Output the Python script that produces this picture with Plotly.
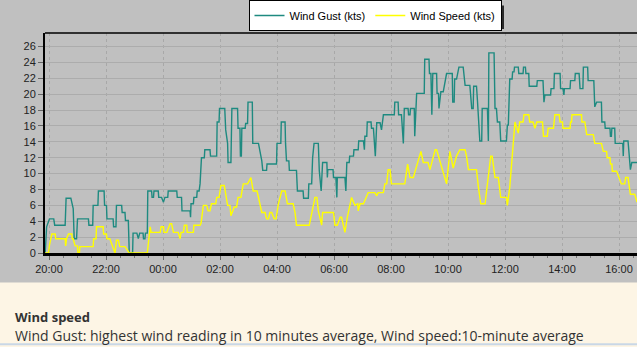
import plotly.graph_objects as go
from datetime import datetime, timedelta

# ---------------- data ----------------
gust_times = ["19:52","19:55","20:01","20:10","20:12","20:34","20:36","20:46","20:51","20:53","20:58","21:00",
"21:23","21:24","21:32","21:33","21:43","21:44","21:56","21:57","22:01","22:02","22:15","22:16","22:21","22:22",
"22:33","22:34","22:40","22:41","22:47","22:49","22:56","22:57","23:05","23:08","23:11","23:18","23:19","23:22",
"23:23","23:27","23:28","23:36","23:37","23:40","23:41","23:50","23:51","23:57","00:01","00:04","00:10","00:11",
"00:29","00:30","00:39","00:40","00:57","00:58","00:59","01:04","01:05","01:11","01:12","01:16","01:18","01:21",
"01:27","01:28","01:39","01:40","01:53","01:54","01:58","01:59","02:10","02:12","02:16","02:17","02:23","02:25",
"02:37","02:38","02:42","02:43","02:45","02:46","02:53","02:54","02:58","02:59","03:08","03:09","03:21","03:28",
"03:30","03:38","03:39","03:59","04:00","04:08","04:09","04:17","04:18","04:20","04:25","04:26","04:41","04:43",
"04:55","04:56","05:06","05:07","05:13","05:15","05:18","05:27","05:29","05:33","05:36","05:45","05:46","05:47",
"05:58","05:59","06:04","06:06","06:07","06:23","06:25","06:27","06:32","06:33","06:41","06:42","06:51","06:52",
"07:02","07:04","07:05","07:09","07:10","07:18","07:19","07:23","07:27","07:30","07:37","07:40","07:44","08:07",
"08:08","08:15","08:16","08:22","08:26","08:28","08:36","08:37","08:40","08:41","08:49","08:50","08:54","09:10",
"09:11","09:20","09:21","09:24","09:26","09:28","09:36","09:37","09:40","09:41","09:45","09:50","09:57","10:09",
"10:10","10:13","10:14","10:18","10:23","10:32","10:36","10:46","10:50","10:53","10:54","11:00","11:02","11:07",
"11:11","11:12","11:23","11:24","11:25","11:26","11:37","11:39","11:42","11:44","11:49","11:51","12:03","12:05",
"12:07","12:10","12:15","12:16","12:19","12:20","12:28","12:29","12:38","12:39","12:43","12:44","12:50","12:51",
"13:07","13:08","13:20","13:22","13:24","13:36","13:37","13:43","13:44","13:56","13:57","14:02","14:04","14:05",
"14:17","14:18","14:27","14:28","14:36","14:38","14:44","14:45","14:54","14:55","15:07","15:09","15:13","15:23",
"15:24","15:30","15:31","15:41","15:42","15:44","15:45","15:51","15:52","16:08","16:09","16:10","16:19","16:24",
"16:27","16:38"]
gust_values = [0,3.3,4.3,4.3,3.5,3.5,6.9,6.9,5.6,1.8,1.8,4.3,
4.3,3.5,3.5,6.0,6.0,7.8,7.8,6.0,6.0,4.3,4.3,3.3,3.3,6.0,
6.0,5.1,5.1,4.1,4.1,0,0,2.5,2.5,1.8,2.5,2.5,1.8,1.8,
2.5,2.5,7.8,7.8,7.0,7.0,7.8,7.8,7.0,7.0,6.4,7.0,7.0,7.8,
7.8,7.0,7.0,5.3,5.3,4.5,6.2,6.2,7.0,7.0,7.8,7.8,8.7,12.0,
12.0,13.0,13.0,12.2,12.2,16.5,16.5,18.2,18.2,15.5,13.8,11.4,11.4,18.2,
18.2,15.7,15.7,12.2,12.2,15.7,15.7,16.3,16.3,19.0,19.0,13.8,13.8,11.6,
10.4,10.4,11.2,11.2,13.8,13.8,16.5,16.5,13.8,11.6,11.6,10.4,10.4,7.8,
7.8,6.9,6.9,8.7,8.7,12.0,13.8,13.8,10.4,7.8,11.4,11.4,9.5,10.5,
10.5,9.5,9.5,7.0,9.5,9.5,7.8,11.4,11.4,12.2,12.2,13.0,13.0,14.1,
14.1,13.0,14.7,14.7,16.5,16.5,15.7,15.7,12.2,16.4,16.4,15.5,17.4,17.4,
19.0,19.0,17.4,17.4,13.8,18.2,18.2,17.4,17.4,18.2,18.2,14.7,20.1,20.1,
24.4,24.4,22.6,22.6,17.4,22.6,22.6,20.1,20.1,18.2,20.3,20.3,22.6,22.6,
19.0,19.0,21.9,21.9,23.4,23.4,21.1,21.1,18.2,18.2,21.0,21.0,19.2,14.1,
14.1,18.2,18.2,14.1,14.1,25.2,25.2,18.2,18.2,16.5,16.5,14.1,14.1,16.1,
16.1,21.9,21.9,22.8,22.8,23.4,23.4,22.6,22.6,23.4,23.4,22.6,22.6,21.0,
21.0,21.7,21.7,19.0,19.9,19.9,20.7,20.7,22.6,22.6,20.7,20.7,19.9,20.7,
20.7,21.7,21.7,22.6,22.6,20.7,20.7,23.4,23.4,21.7,21.7,18.4,19.0,19.0,
16.5,16.5,15.7,15.7,14.7,14.7,15.7,15.7,13.8,13.8,12.2,14.1,14.1,10.5,
11.4,11.4]

speed_times = ["19:52","19:59","20:01","20:06","20:13","20:14","20:34","20:35","20:37","20:41","20:48","20:49",
"20:51","20:55","21:00","21:01","21:04","21:05","21:33","21:34","21:39","21:40","21:54","21:55","22:01","22:02",
"22:08","22:19","22:22","22:26","22:29","22:40","22:49","23:27","23:33","23:35","23:54","23:56","00:01","00:02",
"00:08","00:15","00:18","00:22","00:32","00:36","00:38","00:43","00:45","00:50","00:51","01:04","01:05","01:18",
"01:20","01:25","01:32","01:35","01:39","01:42","01:51","01:53","01:58","02:02","02:09","02:12","02:16","02:21",
"02:23","02:30","02:35","02:38","02:44","02:49","02:58","03:05","03:10","03:18","03:28","03:35","03:38","03:42",
"03:45","03:49","03:54","03:58","04:03","04:10","04:17","04:22","04:34","04:38","04:41","05:08","05:13","05:20",
"05:24","05:27","05:34","05:36","05:59","06:02","06:07","06:13","06:16","06:23","06:28","06:37","06:44","06:50",
"06:51","06:55","07:02","07:12","07:26","07:30","07:33","07:44","07:47","07:51","07:54","07:58","08:01","08:29",
"08:35","08:40","08:47","09:03","09:08","09:18","09:22","09:33","09:36","09:57","10:04","10:11","10:18","10:25",
"10:36","10:39","10:43","11:00","11:04","11:09","11:18","11:25","11:30","11:33","11:39","11:46","11:51","12:03",
"12:05","12:10","12:15","12:21","12:28","12:31","12:38","12:40","12:50","12:52","12:59","13:03","13:07","13:19",
"13:21","13:29","13:31","13:42","13:45","13:54","13:56","14:01","14:02","14:17","14:18","14:20","14:21","14:41",
"14:42","14:48","14:52","15:06","15:09","15:23","15:27","15:34","15:35","15:41","15:42","15:45","15:46","15:55",
"16:00","16:05","16:12","16:14","16:19","16:24","16:33","16:38"]
speed_values = [0,0,1.0,2.4,2.4,1.8,1.8,0.9,1.8,2.4,2.4,1.8,
1.8,0.9,0.9,0,0,0.8,0.8,1.8,1.8,3.3,3.3,2.4,2.4,1.8,
1.8,0,1.6,1.6,0.8,0.8,0,0,3.3,2.6,2.6,3.3,3.3,2.6,
2.6,3.7,3.7,2.6,2.6,1.8,2.6,2.6,3.5,3.5,2.6,2.6,3.5,3.5,
3.7,6.0,6.0,5.3,5.3,6.2,6.2,7.0,7.0,8.5,8.5,7.2,6.0,6.0,
4.7,5.8,5.8,7.0,7.0,8.7,8.7,9.5,7.8,7.8,5.1,5.1,4.3,4.3,
5.1,5.1,4.3,4.3,6.2,7.8,7.8,6.2,6.2,5.1,3.5,3.5,5.1,7.0,
7.0,5.3,3.5,5.1,5.1,3.5,3.5,4.5,4.5,2.6,4.5,7.0,6.0,6.2,
5.3,6.2,6.2,7.6,7.6,7.2,7.6,7.6,8.7,8.7,10.5,10.5,8.7,8.7,
11.2,9.5,9.5,12.8,11.4,11.4,10.5,13.0,13.0,8.7,12.8,10.7,12.2,13.0,
13.0,12.2,10.5,10.5,8.3,6.2,6.2,9.5,12.2,12.2,9.5,9.5,7.0,7.0,
6.0,8.3,12.2,16.5,15.1,16.5,16.5,17.4,17.4,16.5,16.5,15.7,16.5,16.5,
14.7,14.7,15.7,15.7,17.4,17.4,16.5,16.5,15.7,15.7,16.5,16.5,17.4,17.4,
16.5,16.5,14.9,14.9,13.8,13.8,12.8,12.8,12.0,12.0,11.2,11.2,10.3,10.3,
9.5,8.7,8.7,9.5,9.5,7.4,7.4,6.4]

tick_labels = ["20:00","22:00","00:00","02:00","04:00","06:00","08:00","10:00","12:00","14:00","16:00"]
y_ticks = [0, 2, 4, 6, 8, 10, 12, 14, 16, 18, 20, 22, 24, 26]

BASE = datetime(2024, 5, 1)


def to_dt(hhmm):
    h, m = map(int, hhmm.split(":"))
    day = 0 if h >= 19 else 1
    return BASE + timedelta(days=day, hours=h, minutes=m)


gx = [to_dt(t) for t in gust_times]
sx = [to_dt(t) for t in speed_times]
tick_vals = [to_dt(t) for t in tick_labels]
x_start = BASE + timedelta(hours=19, minutes=51, seconds=35)
x_end = BASE + timedelta(days=1, hours=16, minutes=37, seconds=54)

GUST = "#1e8a80"
SPEED = "#ffff00"

fig = go.Figure()
fig.add_trace(go.Scatter(x=gx, y=gust_values, mode="lines", name="Wind Gust (kts)",
                         line=dict(color=GUST, width=1.4)))
fig.add_trace(go.Scatter(x=sx, y=speed_values, mode="lines", name="Wind Speed (kts)",
                         line=dict(color=SPEED, width=1.4)))

W, H = 637, 347
L, T, B = 45, 30, 94
pw, ph = W - L, H - T - B


def px_x(x):
    return (x - L) / pw


def px_y(y):
    return (H - B - y) / ph


shapes = [
    # cream bottom panel
    dict(type="rect", xref="paper", yref="paper", x0=px_x(-2), x1=px_x(W + 2), y0=px_y(H + 2), y1=px_y(283),
         fillcolor="#fdf5e5", line=dict(width=0), layer="below"),
    dict(type="line", xref="paper", yref="paper", x0=px_x(0), x1=px_x(W), y0=px_y(345.5), y1=px_y(345.5),
         line=dict(color="#c9d7e6", width=2)),
    # top border of plot
    dict(type="line", xref="paper", yref="paper", x0=0, x1=1, y0=1, y1=1, line=dict(color="#000000", width=1.5)),
    # legend shadow
    dict(type="rect", xref="paper", yref="paper", x0=px_x(253), x1=px_x(504), y0=px_y(26), y1=px_y(2),
         fillcolor="#2a2a2a", line=dict(width=0), layer="below"),
]

annotations = [
    dict(text="<b>Wind speed</b>", xref="paper", yref="paper", x=px_x(13), y=px_y(318), xanchor="left",
         yanchor="middle", showarrow=False, font=dict(family="Open Sans", size=13, color="#333333")),
    dict(text="Wind Gust: highest wind reading in 10 minutes average, Wind speed:10-minute average",
         xref="paper", yref="paper", x=px_x(13), y=px_y(337), xanchor="left", yanchor="middle",
         showarrow=False, font=dict(family="Open Sans", size=14, color="#333333")),
]

fig.update_layout(
    width=W, height=H,
    margin=dict(l=L, r=0, t=T, b=B, pad=0),
    paper_bgcolor="#c0c0c0",
    plot_bgcolor="#c0c0c0",
    font=dict(family="Liberation Sans, Arial", size=11, color="#222222"),
    showlegend=True,
    legend=dict(orientation="h", x=px_x(375), xanchor="center", y=px_y(-4), yanchor="top",
                bgcolor="#ffffff", bordercolor="#000000", borderwidth=1,
                font=dict(family="Liberation Sans, Arial", size=11, color="#000000"),
                itemwidth=30, tracegroupgap=0),
    shapes=shapes,
    annotations=annotations,
    xaxis=dict(type="date", range=[x_start, x_end], tickmode="array", tickvals=tick_vals, ticktext=tick_labels,
               showgrid=True, gridcolor="#a8a8a8", gridwidth=1, griddash="dot",
               showline=True, linecolor="#000000", linewidth=3,
               ticks="outside", ticklen=4, tickcolor="#666666",
               minor=dict(dtick=30 * 60 * 1000, ticks="outside", ticklen=2, tickcolor="#777777", showgrid=False),
               zeroline=False, fixedrange=True),
    yaxis=dict(range=[0, 27.7], tickmode="array", tickvals=y_ticks,
               showgrid=True, gridcolor="#acacac", gridwidth=1,
               showline=True, linecolor="#000000", linewidth=2,
               ticks="outside", ticklen=5, tickcolor="#666666",
               zeroline=False, fixedrange=True),
)

fig.write_html("out.html")
